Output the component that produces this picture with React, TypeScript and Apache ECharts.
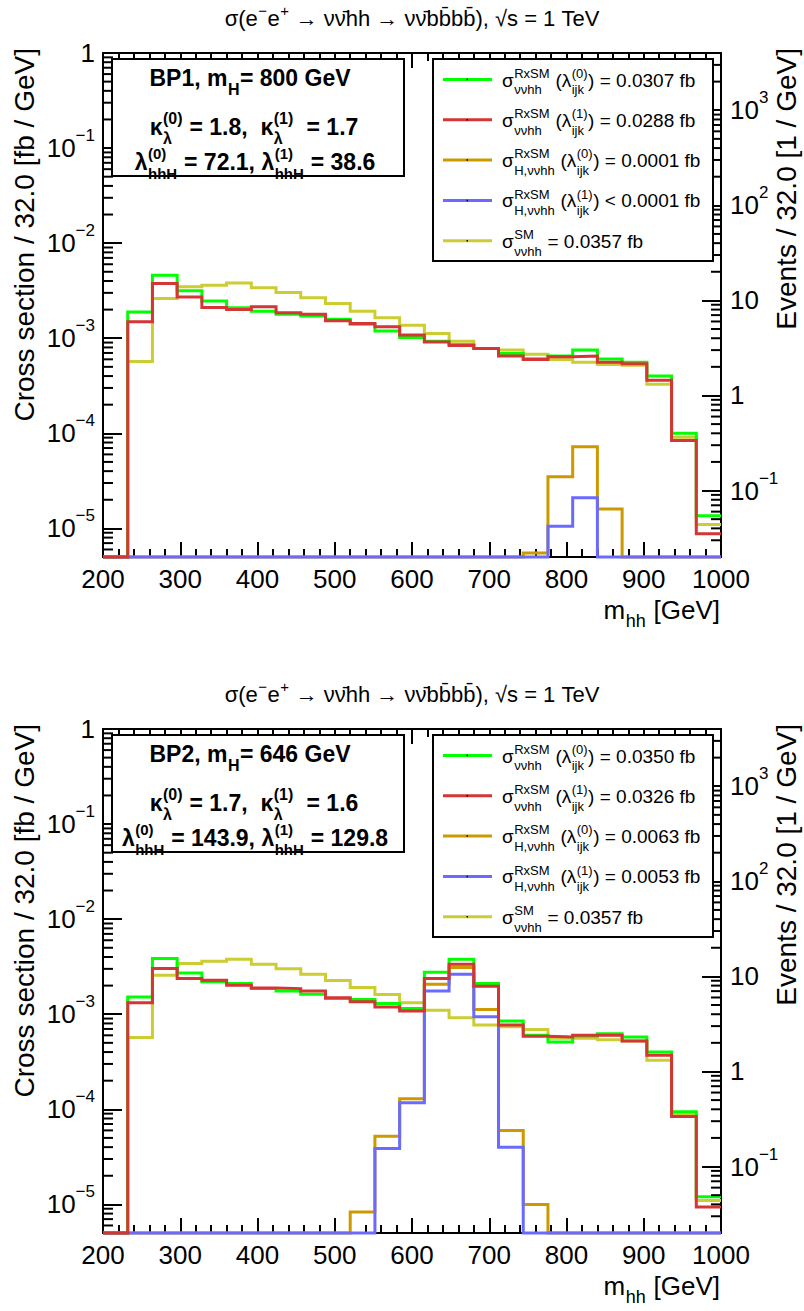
import React, { useEffect, useRef } from "react";
import * as echarts from "echarts";

const FONT = '"Liberation Sans", Arial, Helvetica, sans-serif';

// ---------------- data ----------------
const BIN_EDGES = [200, 232, 264, 296, 328, 360, 392, 424, 456, 488, 520, 552, 584, 616, 648, 680, 712, 744, 776, 808, 840, 872, 904, 936, 968, 1000];
const X_MIN = 200;
const X_MAX = 1000;
const X_TICK = 100;
const Y_MIN = 5e-6;
const Y_MAX = 1;
const LUMI = 4000; // events per fb (right axis)

// BP1 (m_H = 800 GeV)
const BP1_RX0 = [0, 1.89e-3, 4.6e-3, 3.15e-3, 2.47e-3, 2.09e-3, 1.92e-3, 1.79e-3, 1.71e-3, 1.58e-3, 1.40e-3, 1.19e-3, 1.02e-3, 9.3e-4, 8.6e-4, 7.8e-4, 6.9e-4, 6.1e-4, 6.5e-4, 7.5e-4, 6.05e-4, 5.6e-4, 4.0e-4, 1.0e-4, 1.36e-5];
const BP1_RX1 = [0, 1.49e-3, 3.76e-3, 2.72e-3, 2.10e-3, 2.00e-3, 2.14e-3, 1.85e-3, 1.79e-3, 1.53e-3, 1.43e-3, 1.32e-3, 1.08e-3, 9.1e-4, 8.4e-4, 7.8e-4, 6.5e-4, 5.96e-4, 6.4e-4, 6.5e-4, 5.6e-4, 5.4e-4, 3.61e-4, 8.4e-5, 8.8e-6];
const BP1_H0 = [0, 0, 0, 0, 0, 0, 0, 0, 0, 0, 0, 0, 0, 0, 0, 0, 0, 5.5e-6, 3.5e-5, 7.2e-5, 1.6e-5, 0, 0, 0, 0];
const BP1_H1 = [0, 0, 0, 0, 0, 0, 0, 0, 0, 0, 0, 0, 0, 0, 0, 0, 0, 0, 1.05e-5, 2.1e-5, 0, 0, 0, 0, 0];
const BP1_SM = [0, 5.7e-4, 2.62e-3, 3.47e-3, 3.61e-3, 3.82e-3, 3.39e-3, 3.03e-3, 2.66e-3, 2.32e-3, 1.92e-3, 1.64e-3, 1.37e-3, 1.12e-3, 9.3e-4, 7.8e-4, 7.5e-4, 6.8e-4, 5.96e-4, 5.6e-4, 5.3e-4, 5.2e-4, 3.28e-4, 9.1e-5, 1.1e-5];

// BP2 (m_H = 646 GeV)
const BP2_RX0 = [0, 1.52e-3, 3.86e-3, 2.72e-3, 2.19e-3, 2.10e-3, 1.86e-3, 1.76e-3, 1.62e-3, 1.46e-3, 1.43e-3, 1.30e-3, 1.15e-3, 2.77e-3, 3.79e-3, 2.10e-3, 8.5e-4, 6.0e-4, 5.1e-4, 5.9e-4, 6.25e-4, 5.77e-4, 4.0e-4, 9.4e-5, 1.2e-5];
const BP2_RX1 = [0, 1.32e-3, 3.03e-3, 2.37e-3, 2.28e-3, 2.02e-3, 1.89e-3, 1.86e-3, 1.76e-3, 1.49e-3, 1.35e-3, 1.19e-3, 1.08e-3, 2.37e-3, 3.36e-3, 1.97e-3, 7.7e-4, 5.86e-4, 5.77e-4, 6.0e-4, 6.0e-4, 5.24e-4, 3.7e-4, 8.4e-5, 9.4e-6];
const BP2_H0 = [0, 0, 0, 0, 0, 0, 0, 0, 0, 0, 8.3e-6, 5.2e-5, 1.29e-4, 2.07e-3, 3.1e-3, 1.12e-3, 6.0e-5, 1.0e-5, 0, 0, 0, 0, 0, 0, 0];
const BP2_H1 = [0, 0, 0, 0, 0, 0, 0, 0, 0, 0, 0, 3.86e-5, 1.17e-4, 1.76e-3, 2.64e-3, 9.4e-4, 4.0e-5, 0, 0, 0, 0, 0, 0, 0, 0];
const BP2_SM = [0, 5.7e-4, 2.57e-3, 3.41e-3, 3.61e-3, 3.79e-3, 3.36e-3, 3.0e-3, 2.64e-3, 2.26e-3, 1.91e-3, 1.61e-3, 1.32e-3, 1.1e-3, 9.2e-4, 7.7e-4, 7.4e-4, 6.9e-4, 5.6e-4, 5.6e-4, 5.4e-4, 5.24e-4, 3.28e-4, 9.0e-5, 1.1e-5];

// text content
const BP_LABELS = ["BP1", "BP2"];
const M_H = ["800", "646"];
const KAPPA0 = ["1.8", "1.7"];
const KAPPA1 = ["1.7", "1.6"];
const LAMBDA0 = ["72.1", "143.9"];
const LAMBDA1 = ["38.6", "129.8"];
const XS_BP1 = ["= 0.0307 fb", "= 0.0288 fb", "= 0.0001 fb", "< 0.0001 fb", "= 0.0357 fb"];
const XS_BP2 = ["= 0.0350 fb", "= 0.0326 fb", "= 0.0063 fb", "= 0.0053 fb", "= 0.0357 fb"];
const LOG_MINOR_MULT = [2, 3, 4, 5, 6, 7, 8, 9];

const COLORS = {
  rx0: "#00ff00",
  rx1: "#d43535",
  h0: "#cc9900",
  h1: "#6a6aff",
  sm: "#cccc33",
};
const LEGEND_COLORS = [COLORS.rx0, COLORS.rx1, COLORS.h0, COLORS.h1, COLORS.sm];

// ---------------- layout ----------------
const GRID_LEFT = 103;
const GRID_TOP = 53;
const GRID_W = 618;
const GRID_H = 504;
const PANEL_DY = 676;

// ---------------- text helpers ----------------
let measureCtx: CanvasRenderingContext2D | null = null;
function tw(text: string, size: number, bold: boolean) {
  if (!measureCtx) measureCtx = document.createElement("canvas").getContext("2d");
  measureCtx!.font = `${bold ? "bold " : ""}${size}px ${FONT}`;
  return measureCtx!.measureText(text).width;
}
const nb = (s: string) => s.replace(/ /g, "\u00a0");

function txt(text: string, x: number, y: number, size: number, bold: boolean, color = "#000") {
  return {
    type: "text",
    x,
    y,
    z: 100,
    silent: true,
    style: {
      text: nb(text),
      fontSize: size,
      fontFamily: FONT,
      fontWeight: bold ? "bold" : "normal",
      fill: color,
      textAlign: "left",
      textVerticalAlign: "middle",
      align: "left",
      verticalAlign: "middle",
    },
  };
}

type Seg = { t?: string; sup?: string; sub?: string };
function latex(
  segs: Seg[],
  x: number,
  y: number,
  size: number,
  opts: { bold?: boolean; align?: string; script?: number; subDy?: number } = {}
) {
  const bold = !!opts.bold;
  const align = opts.align || "left";
  const ss = Math.round(size * (opts.script || 0.68));
  const subDy = opts.subDy ?? 0.52;
  const ws = segs.map((s) =>
    s.t !== undefined
      ? tw(nb(s.t), size, bold)
      : Math.max(s.sup ? tw(nb(s.sup), ss, bold) : 0, s.sub ? tw(nb(s.sub), ss, bold) : 0) + 1
  );
  const total = ws.reduce((a, b) => a + b, 0);
  let cx = align === "left" ? x : align === "center" ? x - total / 2 : x - total;
  const els: any[] = [];
  segs.forEach((s, i) => {
    if (s.t !== undefined) {
      els.push(txt(s.t, cx, y, size, bold));
    } else {
      if (s.sup) els.push(txt(s.sup, cx + 0.5, y - size * 0.36, ss, bold));
      if (s.sub) els.push(txt(s.sub, cx + 0.5, y + size * subDy, ss, bold));
    }
    cx += ws[i];
  });
  return els;
}

// ---------------- chart pieces ----------------
function stepPoints(vals: number[]) {
  const pts: number[][] = [];
  vals.forEach((v, i) => {
    const y = v > 0 ? v : Y_MIN;
    pts.push([BIN_EDGES[i], y]);
    pts.push([BIN_EDGES[i + 1], y]);
  });
  return pts;
}

function histSeries(vals: number[], color: string, xi: number, yi: number) {
  return {
    type: "line",
    xAxisIndex: xi,
    yAxisIndex: yi,
    data: stepPoints(vals),
    showSymbol: false,
    symbol: "none",
    silent: true,
    clip: false,
    z: 3,
    lineStyle: { color, width: 3, join: "miter" },
  };
}

function minorValues(lo: number, hi: number) {
  const out: number[] = [];
  for (let k = -7; k <= 4; k++) {
    for (const m of LOG_MINOR_MULT) {
      const v = m * Math.pow(10, k);
      if (v > lo * 1.0001 && v < hi * 0.9999) out.push(v);
    }
  }
  return out;
}

function minorTickSeries(xi: number, yi: number, xPos: number, vals: number[], dir: number) {
  return {
    type: "custom",
    xAxisIndex: xi,
    yAxisIndex: yi,
    silent: true,
    clip: false,
    z: 4,
    data: vals.map((v) => [xPos, v]),
    renderItem: (_p: any, api: any) => {
      const p = api.coord([api.value(0), api.value(1)]);
      return {
        type: "line",
        shape: { x1: p[0], y1: p[1], x2: p[0] + dir * 10, y2: p[1] },
        style: { stroke: "#000", lineWidth: 2 },
      };
    },
  };
}

const axisLine = { show: true, onZero: false, lineStyle: { color: "#000", width: 2 } };

function logLabel(v: number) {
  const e = Math.log10(v);
  const r = Math.round(e);
  if (Math.abs(e - r) > 1e-6) return "";
  if (r === 0) return "{b|1}";
  if (r === 1) return "{b|10}";
  return "{b|10}{s|" + (r < 0 ? "\u2212" : "") + Math.abs(r) + "}";
}
const logRich = {
  b: { fontSize: 26, fontFamily: FONT, color: "#000", padding: [8, 0, 8, 0] },
  s: { fontSize: 17, fontFamily: FONT, color: "#000", verticalAlign: "top" },
};

function xAxes(g: number) {
  const base = {
    type: "value",
    gridIndex: g,
    min: X_MIN,
    max: X_MAX,
    interval: X_TICK,
    axisLine,
    splitLine: { show: false },
    axisTick: { show: true, inside: true, length: 15, lineStyle: { color: "#000", width: 2 } },
    minorTick: { show: true, splitNumber: 5, length: 8, lineStyle: { color: "#000", width: 2 } },
  };
  return [
    {
      ...base,
      position: "bottom",
      axisLabel: { fontSize: 26, fontFamily: FONT, color: "#000", margin: 9, formatter: (v: number) => String(v) },
    },
    { ...base, position: "top", axisLabel: { show: false } },
  ];
}

function yAxes(g: number) {
  const base = {
    type: "log",
    logBase: 10,
    gridIndex: g,
    axisLine,
    splitLine: { show: false },
    axisTick: { show: true, inside: true, length: 19, lineStyle: { color: "#000", width: 2 } },
  };
  return [
    {
      ...base,
      position: "left",
      min: Y_MIN,
      max: Y_MAX,
      axisLabel: { formatter: logLabel, rich: logRich, margin: 8 },
    },
    {
      ...base,
      position: "right",
      min: Y_MIN * LUMI,
      max: Y_MAX * LUMI,
      axisLabel: { formatter: logLabel, rich: logRich, margin: 9 },
    },
  ];
}

function rotTitle(text: string, x: number, y: number) {
  return {
    type: "text",
    x,
    y,
    rotation: Math.PI / 2,
    z: 100,
    silent: true,
    style: {
      text,
      fontSize: 28,
      fontFamily: FONT,
      fill: "#000",
      textAlign: "right",
      align: "right",
      textVerticalAlign: "middle",
      verticalAlign: "middle",
    },
  };
}

function panelGraphics(p: number, xs: string[]) {
  const dy = p * PANEL_DY;
  const els: any[] = [];
  const nuBar = "\u03bd\u03bd\u0304";
  const bBar = "b\u0304";
  // title
  els.push(
    ...latex(
      [
        { t: "\u03c3(e" },
        { sup: "\u2212" },
        { t: "e" },
        { sup: "+" },
        { t: ` \u2192 ${nuBar}hh \u2192 ${nuBar}b${bBar}b${bBar}), \u221as = 1 TeV` },
      ],
      412,
      18 + dy,
      22,
      { align: "center" }
    )
  );
  // info box
  els.push({
    type: "rect",
    z: 99,
    silent: true,
    shape: { x: 112, y: 59 + dy, width: 292, height: 117 },
    style: { fill: "#fff", stroke: "#000", lineWidth: 2 },
  });
  const boxSize = 23;
  els.push(...latex([{ t: `${BP_LABELS[p]}, m` }, { sub: "H" }, { t: `= ${M_H[p]} GeV` }], 250, 78 + dy, boxSize, { bold: true, align: "center" }));
  els.push(
    ...latex(
      [
        { t: "\u03ba" },
        { sup: "(0)", sub: "\u03bb" },
        { t: ` = ${KAPPA0[p]},  \u03ba` },
        { sup: "(1)", sub: "\u03bb" },
        { t: `  = ${KAPPA1[p]}` },
      ],
      254,
      127 + dy,
      boxSize,
      { bold: true, align: "center" }
    )
  );
  els.push(
    ...latex(
      [
        { t: "\u03bb" },
        { sup: "(0)", sub: "hhH" },
        { t: ` = ${LAMBDA0[p]}, \u03bb` },
        { sup: "(1)", sub: "hhH" },
        { t: ` = ${LAMBDA1[p]}` },
      ],
      255,
      162 + dy,
      boxSize,
      { bold: true, align: "center", script: 0.64 }
    )
  );
  // legend box
  els.push({
    type: "rect",
    z: 99,
    silent: true,
    shape: { x: 433, y: 59 + dy, width: 280, height: 202 },
    style: { fill: "#fff", stroke: "#000", lineWidth: 2 },
  });
  const entries: Seg[][] = [
    [{ t: "\u03c3" }, { sup: "RxSM", sub: "\u03bd\u03bdhh" }, { t: " (\u03bb" }, { sup: "(0)", sub: "ijk" }, { t: `) ${xs[0]}` }],
    [{ t: "\u03c3" }, { sup: "RxSM", sub: "\u03bd\u03bdhh" }, { t: " (\u03bb" }, { sup: "(1)", sub: "ijk" }, { t: `) ${xs[1]}` }],
    [{ t: "\u03c3" }, { sup: "RxSM", sub: "H,\u03bd\u03bdhh" }, { t: " (\u03bb" }, { sup: "(0)", sub: "ijk" }, { t: `) ${xs[2]}` }],
    [{ t: "\u03c3" }, { sup: "RxSM", sub: "H,\u03bd\u03bdhh" }, { t: " (\u03bb" }, { sup: "(1)", sub: "ijk" }, { t: `) ${xs[3]}` }],
    [{ t: "\u03c3" }, { sup: "SM", sub: "\u03bd\u03bdhh" }, { t: ` ${xs[4]}` }],
  ];
  entries.forEach((segs, i) => {
    const yy = 79.5 + i * 40.3 + dy;
    els.push({
      type: "line",
      z: 100,
      silent: true,
      shape: { x1: 443, y1: yy, x2: 492, y2: yy },
      style: { stroke: LEGEND_COLORS[i], lineWidth: 3 },
    });
    els.push({
      type: "rect",
      z: 101,
      silent: true,
      shape: { x: 466.5, y: yy - 0.75, width: 1.5, height: 1.5 },
      style: { fill: "#000" },
    });
    els.push(...latex(segs, 502, yy + 0.5, 19));
  });
  // axis titles
  els.push(rotTitle("Cross section / 32.0 [fb / GeV]", 24, 48 + dy));
  els.push(rotTitle("Events / 32.0 [1 / GeV]", 786, 48 + dy));
  els.push(...latex([{ t: "m" }, { sub: "hh" }, { t: " [GeV]" }], 720, 610 + dy, 26, { align: "right", subDy: 0.42 }));
  return els;
}

function buildOption() {
  const panels = [
    { rx0: BP1_RX0, rx1: BP1_RX1, h0: BP1_H0, h1: BP1_H1, sm: BP1_SM },
    { rx0: BP2_RX0, rx1: BP2_RX1, h0: BP2_H0, h1: BP2_H1, sm: BP2_SM },
  ];
  const series: any[] = [];
  panels.forEach((d, p) => {
    const xi = p * 2;
    const yl = p * 2;
    const yr = p * 2 + 1;
    series.push(histSeries(d.sm, COLORS.sm, xi, yl));
    series.push(histSeries(d.rx0, COLORS.rx0, xi, yl));
    series.push(histSeries(d.h0, COLORS.h0, xi, yl));
    series.push(histSeries(d.h1, COLORS.h1, xi, yl));
    series.push(histSeries(d.rx1, COLORS.rx1, xi, yl));
    series.push(minorTickSeries(xi, yl, X_MIN, minorValues(Y_MIN, Y_MAX), 1));
    series.push(minorTickSeries(xi, yr, X_MAX, minorValues(Y_MIN * LUMI, Y_MAX * LUMI), -1));
  });
  return {
    animation: false,
    backgroundColor: "#fff",
    grid: [
      { left: GRID_LEFT, top: GRID_TOP, width: GRID_W, height: GRID_H },
      { left: GRID_LEFT, top: GRID_TOP + PANEL_DY, width: GRID_W, height: GRID_H },
    ],
    xAxis: [...xAxes(0), ...xAxes(1)],
    yAxis: [...yAxes(0), ...yAxes(1)],
    series,
    graphic: { elements: [...panelGraphics(0, XS_BP1), ...panelGraphics(1, XS_BP2)] },
  };
}

export default function App() {
  const ref = useRef<HTMLDivElement>(null);
  useEffect(() => {
    if (!ref.current) return;
    const chart = echarts.init(ref.current, null, { renderer: "svg" });
    chart.setOption(buildOption() as any);
    return () => chart.dispose();
  }, []);
  return (
    <div
      ref={ref}
      style={{ position: "absolute", left: 0, top: 0, width: 804, height: 1311, background: "#fff" }}
    />
  );
}
